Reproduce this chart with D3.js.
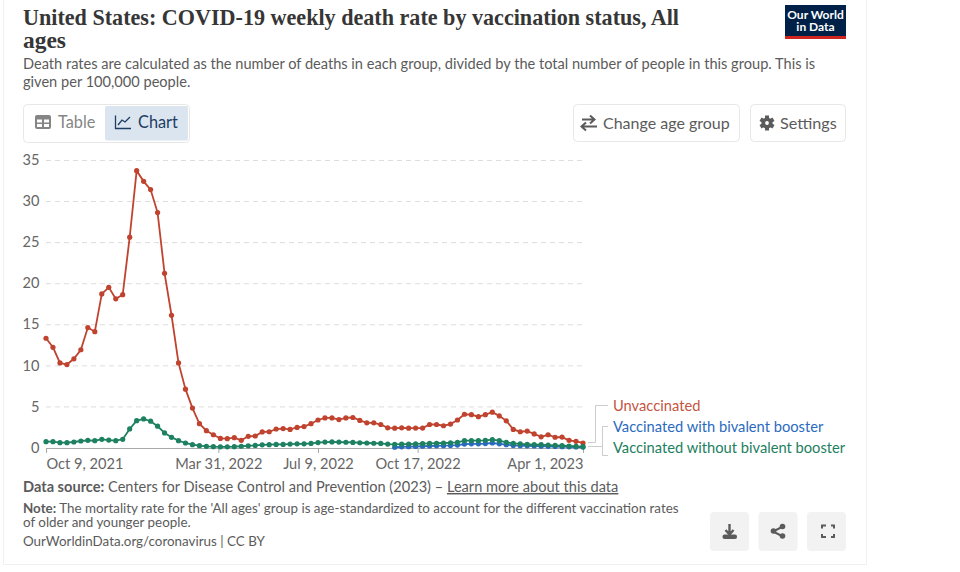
<!DOCTYPE html>
<html><head><meta charset="utf-8">
<script src="https://cdnjs.cloudflare.com/ajax/libs/d3/7.8.5/d3.min.js"></script>
<style>html,body{margin:0;background:#fff}svg{display:block}text{font-family:Lato,sans-serif}</style>
</head><body><svg id="c" width="960" height="572"></svg>
<script>
const startDate = "2021-10-09";
const unvaccinated = [13.3,12.2,10.3,10.1,10.8,11.9,14.6,14.1,18.7,19.5,18.1,18.6,25.6,33.7,32.4,31.4,28.6,21.2,16.1,10.3,7.1,4.8,2.9,2.05,1.55,1.1,1.07,1.2,0.87,1.36,1.4,1.9,1.92,2.25,2.3,2.2,2.45,2.55,2.9,3.35,3.6,3.6,3.4,3.6,3.65,3.3,3.0,3.0,2.8,2.4,2.35,2.4,2.35,2.37,2.37,2.8,2.8,2.65,2.85,3.35,4.05,4.0,3.75,4.0,4.3,3.85,3.25,2.2,1.92,2.0,1.65,1.3,1.55,1.25,1.27,0.87,0.75,0.55];
const withoutBivalent = [0.71,0.71,0.59,0.59,0.67,0.79,0.87,0.83,1.0,0.91,0.83,1.0,2.26,3.27,3.48,3.2,2.6,1.77,1.24,0.83,0.55,0.35,0.22,0.14,0.1,0.08,0.08,0.1,0.15,0.2,0.25,0.32,0.35,0.38,0.38,0.42,0.45,0.45,0.5,0.6,0.66,0.68,0.66,0.64,0.62,0.58,0.55,0.52,0.5,0.42,0.39,0.4,0.42,0.44,0.47,0.5,0.52,0.55,0.58,0.63,0.83,0.83,0.83,0.87,0.95,0.83,0.63,0.5,0.43,0.39,0.35,0.35,0.3,0.26,0.22,0.18,0.14,0.1];
const withBivalent = [0.03,0.08,0.1,0.12,0.15,0.18,0.2,0.22,0.25,0.3,0.42,0.45,0.45,0.48,0.55,0.45,0.35,0.25,0.22,0.2,0.18,0.16,0.14,0.12,0.1,0.08,0.06,0.05];
const bivalentOffset = 50;
const yTicks = [0,5,10,15,20,25,30,35];
const xTickDates = ["2021-10-09","2022-03-31","2022-07-09","2022-10-17","2023-04-01"];
const xTickLabels = ["Oct 9, 2021","Mar 31, 2022","Jul 9, 2022","Oct 17, 2022","Apr 1, 2023"];
const seriesNames = ["Unvaccinated","Vaccinated with bivalent booster","Vaccinated without bivalent booster"];
const RED="#c0432f",BLUE="#2a6bc0",GREEN="#1d8060",GREY="#5b5b5b";

const svg=d3.select("#c");
const parse=d3.utcParse("%Y-%m-%d");
const start=parse(startDate);
const dateAt=i=>d3.utcDay.offset(start,i*7);
const x=d3.scaleUtc().domain([start,parse(xTickDates[4])]).range([46,583]);
const y=d3.scaleLinear().domain([0,35]).range([447.5,160]);

// frame
svg.append("path").attr("d","M3.5 0V564.5H866.5V0").attr("fill","none").attr("stroke","#f0f0f0");

// header
function txt(t,xx,yy,o={}){const e=svg.append("text").attr("x",xx).attr("y",yy).text(t)
 .attr("font-size",o.s||14).attr("fill",o.c||GREY).attr("font-weight",o.w||400).attr("text-anchor",o.a||"start");
 if(o.f)e.style("font-family",o.f); if(o.len)e.attr("textLength",o.len).attr("lengthAdjust","spacingAndGlyphs"); if(o.u)e.attr("text-decoration","underline");return e;}
const serif="'Liberation Serif',serif";
txt("United States: COVID-19 weekly death rate by vaccination status, All",23,25,{s:23.5,w:700,c:"#363636",f:serif,len:656});
txt("ages",23,48,{s:23.5,w:700,c:"#363636",f:serif,len:43});
txt("Death rates are calculated as the number of deaths in each group, divided by the total number of people in this group. This is",23,69,{s:14.6});
txt("given per 100,000 people.",23,87,{s:14.6});

// logo
svg.append("rect").attr("x",785).attr("y",5).attr("width",61).attr("height",34).attr("fill","#002147");
svg.append("rect").attr("x",785).attr("y",36).attr("width",61).attr("height",3).attr("fill","#ce261e");
txt("Our World",815.5,19,{s:12,w:700,c:"#fff",a:"middle"});
txt("in Data",815.5,31,{s:12,w:700,c:"#fff",a:"middle"});

// controls
function box(xx,yy,w,h,fill,stroke,r=4){svg.append("rect").attr("x",xx).attr("y",yy).attr("width",w).attr("height",h).attr("rx",r).attr("fill",fill).attr("stroke",stroke||"none");}
box(23.5,104.5,166,38,"#fff","#e7e7e7");
box(105,106,83,34.5,"#dbe5f0",null,2);
txt("Table",58,127.5,{s:16.3,c:"#858585"});
txt("Chart",138,127.5,{s:16.3,c:"#1d3d63"});
box(573.5,104.5,166,37,"#fff","#e7e7e7");
box(750.5,104.5,95,37,"#fff","#e7e7e7");
txt("Change age group",603,128.5,{s:16});
txt("Settings",780,128.5,{s:16.2});
// table icon
box(35,115,16,14,"#858585",null,2);
svg.append("path").attr("d","M37 119.5h5v3h-5zM44 119.5h5v3h-5zM37 124h5v3h-5zM44 124h5v3h-5z").attr("fill","#fff");
// chart icon
svg.append("path").attr("d","M115.5 115.5V128.5H131M118 125l4-5 3 2 5-5").attr("fill","none").attr("stroke","#1d3d63").attr("stroke-width",1.3);
// swap icon
svg.append("path").attr("d","M582 119.5h11M590 115.5l4.5 4-4.5 4M597 126.5h-14M586 122.5l-4.5 4 4.5 4").attr("fill","none").attr("stroke",GREY).attr("stroke-width",2);
// gear icon
svg.append("g").selectAll("rect").data(d3.range(3)).join("rect").attr("x",765).attr("y",115.5).attr("width",4).attr("height",15)
 .attr("fill",GREY).attr("transform",d=>`rotate(${d*60} 767 123)`);
svg.append("circle").attr("cx",767).attr("cy",123).attr("r",5.6).attr("fill",GREY);
svg.append("circle").attr("cx",767).attr("cy",123).attr("r",1.9).attr("fill","#fff");

// y axis + grid
const gy=svg.append("g").attr("transform","translate(46,0)").call(d3.axisLeft(y).tickValues(yTicks).tickSize(0).tickPadding(6.5));
gy.select(".domain").remove();
gy.selectAll("text").attr("font-size",14.6).attr("fill","#666").style("font-family","Lato");
gy.selectAll(".tick").filter(d=>d>0).append("line").attr("x2",537).attr("stroke","#ddd").attr("stroke-dasharray","5,4");

// x axis
const lab=new Map(xTickDates.map((d,i)=>[+parse(d),xTickLabels[i]]));
const gx=svg.append("g").attr("transform","translate(0,448)").call(d3.axisBottom(x).tickValues(xTickDates.map(parse)).tickSize(5).tickPadding(6).tickFormat(d=>lab.get(+d)).tickSizeOuter(0));
gx.select(".domain").attr("stroke","#a8a8a8").attr("stroke-width",1);
gx.selectAll("line").attr("stroke","#a8a8a8");
gx.selectAll("text").attr("font-size",14.6).attr("fill","#666").style("font-family","Lato")
 .attr("text-anchor",(d,i)=>i==0?"start":i==4?"end":"middle");

// series
const line=d3.line().x(d=>x(d.date)).y(d=>y(d.v));
function series(vals,off,col){
 const data=vals.map((v,i)=>({date:dateAt(i+off),v}));
 const g=svg.append("g");
 g.append("path").datum(data).attr("d",line).attr("fill","none").attr("stroke",col).attr("stroke-width",1.8);
 g.selectAll("circle").data(data).join("circle").attr("cx",d=>x(d.date)).attr("cy",d=>y(d.v)).attr("r",2.6).attr("fill",col);
}
series(unvaccinated,0,RED);
series(withBivalent,bivalentOffset,BLUE);
series(withoutBivalent,0,GREEN);

// legend
svg.append("path").attr("d","M588 442.5H595.5V405.5H608M588 446.5H602.5V426.5H608M602.5 446.5V455.5H608").attr("fill","none").attr("stroke","#ccc");
const ly=[410.5,432,452.5],lc=["#c4553f",BLUE,GREEN];
seriesNames.forEach((n,i)=>txt(n,613,ly[i],{s:14.7,c:lc[i]}));

// footer
const s1=txt("",23,492,{s:14.6});
s1.append("tspan").attr("font-weight",700).text("Data source:");
s1.append("tspan").text(" Centers for Disease Control and Prevention (2023) – ");
s1.append("tspan").attr("text-decoration","underline").text("Learn more about this data");
const s2=txt("",23,513,{s:13.4});
s2.append("tspan").attr("font-weight",700).text("Note:");
s2.append("tspan").text(" The mortality rate for the 'All ages' group is age-standardized to account for the different vaccination rates");
txt("of older and younger people.",23,527,{s:13.4});
txt("OurWorldinData.org/coronavirus | CC BY",23,546,{s:13.4});

// buttons
[710,758.5,807].forEach(b=>box(b,512,39,39,"#f2f2f2",null,4));
svg.append("path").attr("d","M729.5 524v9M725.5 530l4 4.5 4-4.5").attr("fill","none").attr("stroke",GREY).attr("stroke-width",2.4);
box(722.5,534.5,14.5,4.5,GREY,null,2);
svg.append("path").attr("d","M782 527L773 531.5L782 536").attr("fill","none").attr("stroke",GREY).attr("stroke-width",2);
[[782.5,526.5],[773.5,531],[782.5,536]].forEach(p=>svg.append("circle").attr("cx",p[0]).attr("cy",p[1]).attr("r",2.8).attr("fill",GREY));
svg.append("path").attr("d","M822 528.5v-3h4M831 525.5h3v3M834 534v3h-3M826 537h-4v-3").attr("fill","none").attr("stroke",GREY).attr("stroke-width",2);
</script></body></html>
